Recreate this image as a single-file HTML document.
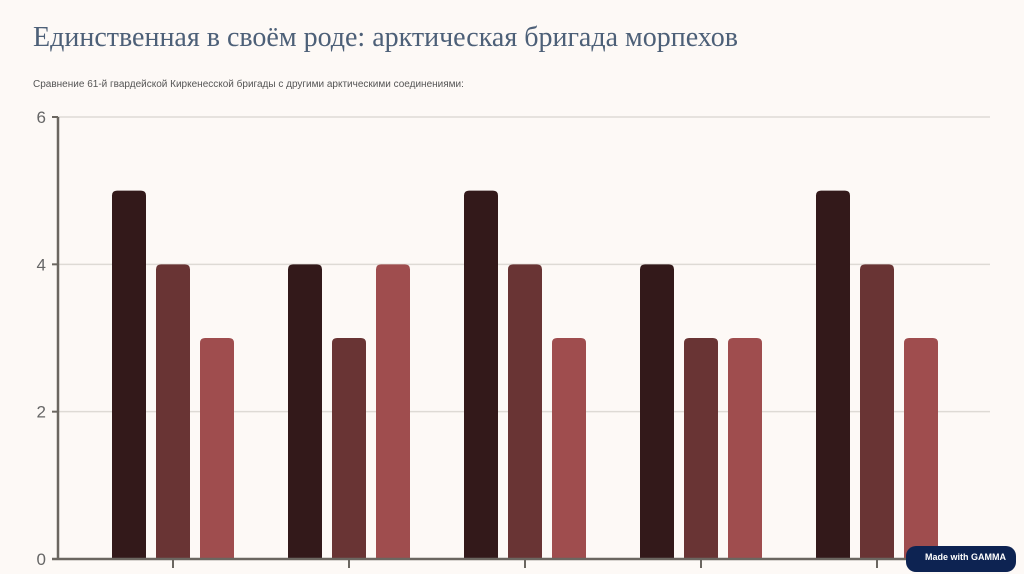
<!DOCTYPE html>
<html><head><meta charset="utf-8"><style>
html,body{margin:0;padding:0;background:#fdf9f6;width:1024px;height:574px;overflow:hidden;position:relative}
.title{position:absolute;left:33px;top:22px;font-family:"Liberation Serif","Noto Serif CJK SC",serif;font-size:28px;color:#4d6078;white-space:nowrap}
.sub{position:absolute;left:33px;top:79px;font-family:"Liberation Sans",sans-serif;font-size:10px;color:#555;white-space:nowrap}
.badge{position:absolute;left:906px;top:546px;width:110px;height:26px;background:#0d2352;border-radius:10px;color:#fff;font:bold 9px "Liberation Sans",sans-serif;line-height:22px;text-align:right;padding-right:10px;box-sizing:border-box}
</style></head><body>
<div class="title">Единственная в своём роде: арктическая бригада морпехов</div>
<div class="sub">Сравнение 61-й гвардейской Киркенесской бригады с другими арктическими соединениями:</div>
<svg id="chart" width="1024" height="574" style="position:absolute;left:0;top:0"></svg>
<div class="badge">Made with GAMMA</div>
<script>
const categories=["A","B","C","D","E"];
const series1=[5,4,5,4,5];
const series2=[4,3,4,3,4];
const series3=[3,4,3,3,3];
const yTicks=[0,2,4,6];
const colors=["#33191a","#693434","#9f4d4e"];
const svg=document.getElementById('chart');
const NS="http://www.w3.org/2000/svg";
const x0=58,groupW=176,y0=559,yTop=117,yMax=6;
const yScale=v=>y0-(v/yMax)*(y0-yTop);
function mk(t,a){const e=document.createElementNS(NS,t);for(const k in a)e.setAttribute(k,a[k]);svg.appendChild(e);return e;}
yTicks.forEach(t=>{
  if(t>0){const g=mk('line',{x1:x0,x2:990,y1:yScale(t),y2:yScale(t),stroke:'#dedad5','stroke-width':1.5});
  
  }
  const tk=mk('line',{x1:x0-6,x2:x0,y1:yScale(t),y2:yScale(t),stroke:'#6b6660','stroke-width':2});
  
  
  const tx=mk('text',{x:x0-12,y:yScale(t)+6,'text-anchor':'end','font-family':'Liberation Sans, sans-serif','font-size':17,fill:'#666'});
  tx.textContent=t;
  
  
});
const all=[series1,series2,series3];
categories.forEach((c,i)=>{
  const gx=x0+groupW*i;
  all.forEach((s,j)=>{
    const bx=gx+54+j*44,by=yScale(s[i]),h=y0-by,r=5;
    const p=mk('path',{d:`M${bx},${y0}V${by+r}Q${bx},${by} ${bx+r},${by}H${bx+34-r}Q${bx+34},${by} ${bx+34},${by+r}V${y0}Z`,fill:colors[j]});
    
    
  });
  const t=mk('line',{x1:gx+115,x2:gx+115,y1:y0,y2:y0+9,stroke:'#6b6660','stroke-width':2});
  
  
});
const ya=mk('line',{x1:x0,x2:x0,y1:yTop,y2:y0+1,stroke:'#6b6660','stroke-width':2.5});


const xa=mk('line',{x1:x0-6,x2:990,y1:y0,y2:y0,stroke:'#6b6660','stroke-width':2.5});


</script>
</body></html>
